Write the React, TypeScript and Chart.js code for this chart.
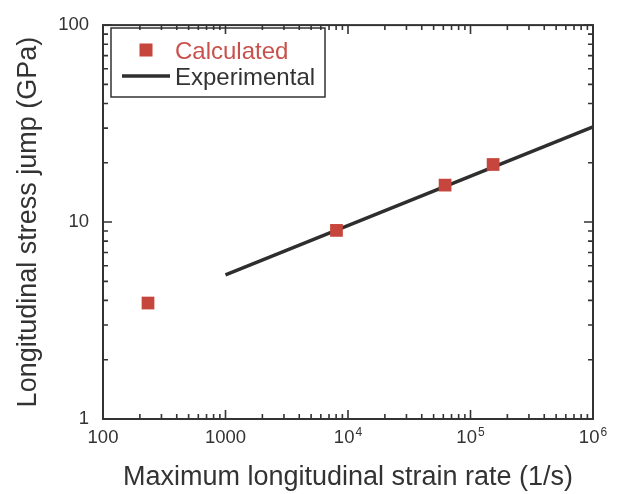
import React, { useEffect, useRef } from "react";
import { Chart, registerables } from "chart.js";

Chart.register(...registerables);

// ---- data ----
const calcStrainRate = [233, 8050, 62000, 153000];
const calcStress = [3.88, 9.07, 15.4, 19.6];
const expStrainRate = [1000, 1000000];
const expStress = [5.4, 30.4];

const xTickValues = [100, 1000, 10000, 100000, 1000000];
const xTickBase = ["100", "1000", "10", "10", "10"];
const xTickExp = ["", "", "4", "5", "6"];
const yTickValues = [1, 10, 100];
const yTickLabels = ["1", "10", "100"];

const seriesNames = ["Calculated", "Experimental"];
const xTitle = "Maximum longitudinal strain rate (1/s)";
const yTitle = "Longitudinal stress jump (GPa)";

const FONT = "'Liberation Sans', Arial, Helvetica, sans-serif";
const AXIS = "#333333";
const RED = "#c6453c";
const RED_TEXT = "#c8524b";
const LINE = "#2e2e2e";
const TICK_FONT = 18.5;

const framePlugin = {
  id: "frameTicks",
  afterDraw(chart: any) {
    const { ctx, chartArea } = chart;
    const { left, right, top, bottom } = chartArea;
    const xs = chart.scales.x;
    const ys = chart.scales.y;
    ctx.save();
    ctx.strokeStyle = AXIS;
    ctx.lineWidth = 1.6;
    const major = 9;
    const minor = 5;
    const xDecades = xTickValues.slice(0, -1);
    const drawX = (v: number, len: number) => {
      const px = xs.getPixelForValue(v);
      ctx.beginPath();
      ctx.moveTo(px, bottom);
      ctx.lineTo(px, bottom - len);
      ctx.moveTo(px, top);
      ctx.lineTo(px, top + len);
      ctx.stroke();
    };
    xTickValues.forEach((v) => drawX(v, major));
    xDecades.forEach((d) => {
      for (let k = 2; k <= 9; k++) drawX(k * d, minor);
    });
    const yDecades = yTickValues.slice(0, -1);
    const drawY = (v: number, len: number) => {
      const py = ys.getPixelForValue(v);
      ctx.beginPath();
      ctx.moveTo(left, py);
      ctx.lineTo(left + len, py);
      ctx.moveTo(right, py);
      ctx.lineTo(right - len, py);
      ctx.stroke();
    };
    yTickValues.forEach((v) => drawY(v, major));
    yDecades.forEach((d) => {
      for (let k = 2; k <= 9; k++) drawY(k * d, minor);
    });
    // frame
    ctx.lineWidth = 2;
    ctx.strokeRect(left, top, right - left, bottom - top);

    // x tick labels with superscripts
    ctx.fillStyle = AXIS;
    ctx.textBaseline = "alphabetic";
    ctx.textAlign = "left";
    const baseY = bottom + 24;
    xTickValues.forEach((v, i) => {
      const px = xs.getPixelForValue(v);
      ctx.font = `${TICK_FONT}px ${FONT}`;
      const wb = ctx.measureText(xTickBase[i]).width;
      ctx.font = `12px ${FONT}`;
      const we = xTickExp[i] ? ctx.measureText(xTickExp[i]).width + 1 : 0;
      const sx = px - (wb + we) / 2;
      ctx.font = `${TICK_FONT}px ${FONT}`;
      ctx.fillText(xTickBase[i], sx, baseY);
      if (xTickExp[i]) {
        ctx.font = `12px ${FONT}`;
        ctx.fillText(xTickExp[i], sx + wb + 1, baseY - 7);
      }
    });

    // legend
    const lx = 111, ly = 28, lw = 214, lh = 69;
    ctx.lineWidth = 1.5;
    ctx.strokeStyle = AXIS;
    ctx.strokeRect(lx, ly, lw, lh);
    ctx.fillStyle = RED;
    ctx.fillRect(146 - 6.5, 50 - 6.5, 13, 13);
    ctx.font = `24px ${FONT}`;
    ctx.fillStyle = RED_TEXT;
    ctx.fillText(seriesNames[0], 175, 59);
    ctx.strokeStyle = LINE;
    ctx.lineWidth = 3.5;
    ctx.beginPath();
    ctx.moveTo(122, 76);
    ctx.lineTo(170, 76);
    ctx.stroke();
    ctx.fillStyle = AXIS;
    ctx.fillText(seriesNames[1], 175, 85);
    ctx.restore();
  },
};

export default function App() {
  const ref = useRef<HTMLCanvasElement | null>(null);
  useEffect(() => {
    if (!ref.current) return;
    const chart = new Chart(ref.current, {
      type: "scatter",
      data: {
        datasets: [
          {
            label: seriesNames[0],
            data: calcStrainRate.map((x, i) => ({ x, y: calcStress[i] })),
            pointStyle: "rect",
            pointRadius: 9,
            pointHoverRadius: 9,
            backgroundColor: RED,
            borderWidth: 0,
            showLine: false,
            order: 0,
          } as any,
          {
            label: seriesNames[1],
            type: "line",
            data: expStrainRate.map((x, i) => ({ x, y: expStress[i] })),
            borderColor: LINE,
            borderWidth: 3.5,
            pointRadius: 0,
            showLine: true,
            fill: false,
            order: 1,
          } as any,
        ],
      },
      options: {
        animation: false,
        responsive: false,
        events: [],
        layout: { padding: { top: 19, right: 24, left: 0, bottom: 0 } },
        plugins: { legend: { display: false }, tooltip: { enabled: false } },
        scales: {
          x: {
            type: "logarithmic",
            min: 100,
            max: 1000000,
            grid: { display: false, drawTicks: false },
            border: { display: false },
            ticks: { display: false },
            afterFit: (s: any) => {
              s.height = 75;
            },
            title: {
              display: true,
              text: xTitle,
              color: AXIS,
              font: { family: FONT, size: 27 },
              padding: { top: 0, bottom: 0 },
            },
          },
          y: {
            type: "logarithmic",
            min: 1,
            max: 100,
            grid: { display: false, drawTicks: false },
            border: { display: false },
            afterBuildTicks: (s: any) => {
              s.ticks = yTickValues.map((v) => ({ value: v }));
            },
            ticks: {
              color: AXIS,
              padding: 14,
              font: { family: FONT, size: TICK_FONT },
              callback: (v: any) => {
                const i = yTickValues.indexOf(Number(v));
                return i >= 0 ? yTickLabels[i] : "";
              },
            },
            afterFit: (s: any) => {
              s.width = 103;
            },
            title: {
              display: true,
              text: yTitle,
              color: AXIS,
              font: { family: FONT, size: 27 },
              padding: { top: 12, bottom: 0 },
            },
          },
        },
      },
      plugins: [framePlugin],
    });
    return () => chart.destroy();
  }, []);
  return (
    <div style={{ position: "fixed", left: 0, top: 0, width: 617, height: 494, background: "#fff" }}>
      <canvas ref={ref} width={617} height={494} />
    </div>
  );
}
